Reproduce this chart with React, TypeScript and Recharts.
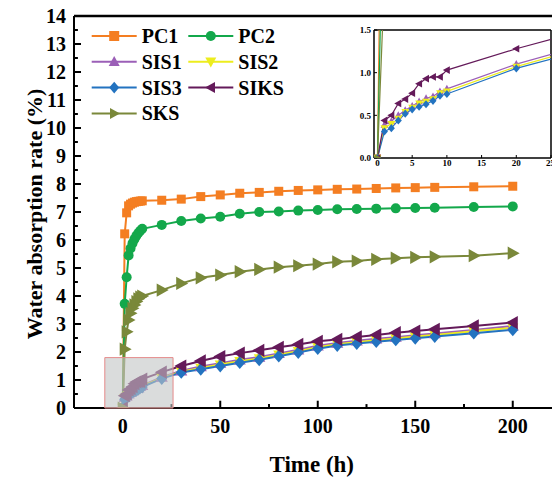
import React from 'react';
import { LineChart, Line, XAxis, YAxis, ReferenceLine, ReferenceArea, Legend } from 'recharts';

// ---------- data ----------
const times = [0, 1, 2, 3, 4, 5, 6, 7, 8, 9, 10, 20, 30, 40, 50, 60, 70, 80, 90, 100, 110, 120, 130, 140, 150, 160, 180, 200];

const pc1 = [0, 6.22, 6.97, 7.22, 7.28, 7.32, 7.35, 7.37, 7.38, 7.39, 7.4, 7.42, 7.46, 7.55, 7.61, 7.67, 7.7, 7.74, 7.77, 7.79, 7.81, 7.82, 7.84, 7.86, 7.87, 7.88, 7.9, 7.92];
const pc2 = [0, 3.72, 4.67, 5.45, 5.7, 5.88, 6.03, 6.15, 6.25, 6.33, 6.4, 6.54, 6.68, 6.77, 6.83, 6.94, 7.0, 7.02, 7.05, 7.07, 7.1, 7.11, 7.12, 7.13, 7.14, 7.15, 7.18, 7.2];
const sis1 = [0, 0.39, 0.43, 0.5, 0.56, 0.61, 0.66, 0.7, 0.72, 0.78, 0.81, 1.1, 1.33, 1.48, 1.6, 1.72, 1.82, 1.95, 2.08, 2.22, 2.32, 2.4, 2.47, 2.53, 2.6, 2.66, 2.79, 2.93];
const sis2 = [0, 0.35, 0.4, 0.46, 0.54, 0.59, 0.64, 0.66, 0.69, 0.76, 0.78, 1.07, 1.3, 1.43, 1.55, 1.67, 1.77, 1.9, 2.03, 2.17, 2.28, 2.35, 2.42, 2.48, 2.55, 2.61, 2.74, 2.87];
const sis3 = [0, 0.31, 0.35, 0.44, 0.52, 0.57, 0.6, 0.63, 0.67, 0.73, 0.75, 1.05, 1.27, 1.38, 1.5, 1.62, 1.72, 1.85, 1.98, 2.12, 2.23, 2.3, 2.37, 2.43, 2.49, 2.55, 2.67, 2.79];
const siks = [0, 0.44, 0.5, 0.64, 0.69, 0.76, 0.87, 0.93, 0.95, 0.95, 1.03, 1.28, 1.5, 1.68, 1.84, 1.96, 2.06, 2.17, 2.27, 2.38, 2.45, 2.54, 2.61, 2.69, 2.75, 2.81, 2.93, 3.05];
const sks = [0, 2.1, 2.72, 3.14, 3.38, 3.56, 3.68, 3.8, 3.9, 3.96, 4.0, 4.21, 4.45, 4.65, 4.75, 4.87, 4.95, 5.03, 5.08, 5.14, 5.22, 5.25, 5.31, 5.35, 5.38, 5.4, 5.44, 5.53];

const seriesNames = ['PC1', 'PC2', 'SIS1', 'SIS2', 'SIS3', 'SIKS', 'SKS'];
const seriesValues = [pc1, pc2, sis1, sis2, sis3, siks, sks];
const seriesColors = ['#F47E22', '#13A84B', '#9B5FB7', '#EDED1E', '#2373C0', '#641A5A', '#7A883A'];
const seriesShapes = ['square', 'circle', 'up', 'down', 'diamond', 'left', 'right'];
const seriesSizes = [9, 10, 11, 10, 11, 12, 12];

const mainXTicks = [0, 50, 100, 150, 200];
const mainXMinor = [25, 75, 125, 175];
const mainYTicks = [0, 1, 2, 3, 4, 5, 6, 7, 8, 9, 10, 11, 12, 13, 14];
const mainYMinor = [0.5, 1.5, 2.5, 3.5, 4.5, 5.5, 6.5, 7.5, 8.5, 9.5, 10.5, 11.5, 12.5, 13.5];
const insetXTicks = [0, 5, 10, 15, 20, 25];
const insetYTicks = [0, 0.5, 1, 1.5];

const zoomBox = { x1: -9.2, x2: 25.8, y1: 0, y2: 1.8 };

const data = times.map((t, i) => {
  const row: any = { t };
  seriesNames.forEach((n, k) => {
    row[n] = seriesValues[k][i];
  });
  return row;
});

const FONT = '"Liberation Serif", "Times New Roman", serif';

// ---------- markers ----------
function markerShape(shape: string, cx: number, cy: number, s: number, color: string, key?: any) {
  switch (shape) {
    case 'square':
      return <rect key={key} x={cx - s / 2} y={cy - s / 2} width={s} height={s} fill={color} />;
    case 'circle':
      return <circle key={key} cx={cx} cy={cy} r={s / 2} fill={color} />;
    case 'up':
      return <polygon key={key} fill={color} points={`${cx},${cy - s * 0.58} ${cx - s * 0.55},${cy + s * 0.42} ${cx + s * 0.55},${cy + s * 0.42}`} />;
    case 'down':
      return <polygon key={key} fill={color} points={`${cx},${cy + s * 0.58} ${cx - s * 0.55},${cy - s * 0.42} ${cx + s * 0.55},${cy - s * 0.42}`} />;
    case 'diamond':
      return <polygon key={key} fill={color} points={`${cx},${cy - s * 0.58} ${cx + s * 0.5},${cy} ${cx},${cy + s * 0.58} ${cx - s * 0.5},${cy}`} />;
    case 'left':
      return <polygon key={key} fill={color} points={`${cx - s * 0.58},${cy} ${cx + s * 0.42},${cy - s * 0.55} ${cx + s * 0.42},${cy + s * 0.55}`} />;
    case 'right':
    default:
      return <polygon key={key} fill={color} points={`${cx + s * 0.58},${cy} ${cx - s * 0.42},${cy - s * 0.55} ${cx - s * 0.42},${cy + s * 0.55}`} />;
  }
}

const makeDot = (shape: string, color: string, size: number) => (props: any) => {
  const { cx, cy, index } = props;
  if (cx == null || cy == null || isNaN(cx) || isNaN(cy)) return <g key={`e${index}`} />;
  return markerShape(shape, cx, cy, size, color, `d${index}`);
};

// ---------- legend ----------
const LegendContent = (props: any) => {
  const payload = (props.payload || []) as any[];
  const colX = [91.7, 188.3];
  const ordered = seriesNames
    .map((n) => payload.find((p: any) => p.value === n))
    .filter(Boolean) as any[];
  return (
    <svg width={300} height={130} style={{ display: 'block' }}>
      {ordered.map((p: any, i: number) => {
        const k = seriesNames.indexOf(p.value);
        const col = i % 2;
        const row = Math.floor(i / 2);
        const x0 = colX[col];
        const y = 36 + row * 25.8;
        return (
          <g key={p.value}>
            <line x1={x0} x2={x0 + 45} y1={y} y2={y} stroke={seriesColors[k]} strokeWidth={2} />
            {markerShape(seriesShapes[k], x0 + 22.5, y, 10, seriesColors[k])}
            <text x={x0 + 50} y={y + 7} fontFamily={FONT} fontWeight="bold" fontSize={20} fill="#000">
              {p.value}
            </text>
          </g>
        );
      })}
    </svg>
  );
};

export default function App() {
  return (
    <div style={{ position: 'absolute', left: 0, top: 0, width: 552, height: 477, overflow: 'hidden', background: '#fff', fontFamily: FONT }}>
      <LineChart width={580} height={477} data={data} margin={{ top: 16, right: 18.5, bottom: 0, left: 0 }}>
        <XAxis
          dataKey="t"
          type="number"
          domain={[-25, 225]}
          ticks={mainXTicks}
          tickLine={false}
          tickSize={0}
          tickMargin={11}
          height={69}
          axisLine={{ stroke: '#000', strokeWidth: 2 }}
          tick={{ fill: '#000', fontSize: 20, fontWeight: 'bold', fontFamily: FONT }}
          label={{ value: 'Time (h)', position: 'insideBottom', offset: 5, dx: -6, fill: '#000', fontSize: 23, fontWeight: 'bold', fontFamily: FONT }}
          allowDataOverflow
        />
        <YAxis
          type="number"
          domain={[0, 14]}
          ticks={mainYTicks}
          interval={0}
          tickLine={false}
          tickSize={0}
          tickMargin={8}
          width={74}
          axisLine={{ stroke: '#000', strokeWidth: 2 }}
          tick={{ fill: '#000', fontSize: 20, fontWeight: 'bold', fontFamily: FONT }}
          label={{ value: 'Water absorption rate (%)', angle: -90, position: 'center', dx: -3, dy: 2, fill: '#000', fontSize: 22, fontWeight: 'bold', fontFamily: FONT }}
          allowDataOverflow
        />
        <ReferenceLine y={14} stroke="#000" strokeWidth={2.5} />
        <ReferenceLine x={225} stroke="#000" strokeWidth={2.5} />
        {mainXTicks.map((v) => (
          <ReferenceLine key={`xt${v}`} segment={[{ x: v, y: 0 }, { x: v, y: 0.26 }]} stroke="#000" strokeWidth={2} />
        ))}
        {mainXMinor.map((v) => (
          <ReferenceLine key={`xm${v}`} segment={[{ x: v, y: 0 }, { x: v, y: 0.14 }]} stroke="#000" strokeWidth={2} />
        ))}
        {mainYTicks.map((v) => (
          <ReferenceLine key={`yt${v}`} segment={[{ x: -25, y: v }, { x: -21.4, y: v }]} stroke="#000" strokeWidth={2} />
        ))}
        {mainYMinor.map((v) => (
          <ReferenceLine key={`ym${v}`} segment={[{ x: -25, y: v }, { x: -23, y: v }]} stroke="#000" strokeWidth={2} />
        ))}
        {seriesNames.map((n, k) => (
          <Line
            key={n}
            dataKey={n}
            name={n}
            type="linear"
            stroke={seriesColors[k]}
            strokeWidth={2}
            dot={makeDot(seriesShapes[k], seriesColors[k], seriesSizes[k])}
            activeDot={false}
            isAnimationActive={false}
          />
        ))}
        <Legend
          layout="vertical"
          align="center"
          verticalAlign="middle"
          wrapperStyle={{ left: 0, top: 0, width: 300, height: 130 }}
          content={<LegendContent />}
        />
      </LineChart>

      {/* translucent zoom box drawn above the series, on identical scales */}
      <div style={{ position: 'absolute', left: 0, top: 0, pointerEvents: 'none' }}>
        <LineChart width={580} height={477} data={data} margin={{ top: 16, right: 18.5, bottom: 69, left: 74 }}>
          <XAxis dataKey="t" type="number" domain={[-25, 225]} hide allowDataOverflow />
          <YAxis type="number" domain={[0, 14]} hide allowDataOverflow />
          <ReferenceArea
            x1={zoomBox.x1}
            x2={zoomBox.x2}
            y1={zoomBox.y1}
            y2={zoomBox.y2}
            fill="#c2c5c4"
            fillOpacity={0.6}
            stroke="#e58a8a"
            strokeWidth={1}
          />
        </LineChart>
      </div>

      <div style={{ position: 'absolute', left: 340, top: 25 }}>
        <LineChart width={215} height={150} data={data} margin={{ top: 5, right: 4, bottom: 0, left: 0 }}>
          <XAxis
            dataKey="t"
            type="number"
            domain={[-0.5, 25]}
            ticks={insetXTicks}
            tickLine={false}
            tickSize={0}
            tickMargin={2}
            height={17}
            axisLine={{ stroke: '#000', strokeWidth: 1.5 }}
            tick={{ fill: '#000', fontSize: 9, fontWeight: 'bold', fontFamily: FONT }}
            allowDataOverflow
          />
          <YAxis
            type="number"
            domain={[0, 1.5]}
            ticks={insetYTicks}
            interval={0}
            tickFormatter={(v: number) => v.toFixed(1)}
            tickLine={false}
            tickSize={0}
            tickMargin={3}
            width={34}
            axisLine={{ stroke: '#000', strokeWidth: 1.5 }}
            tick={{ fill: '#000', fontSize: 9, fontWeight: 'bold', fontFamily: FONT }}
            allowDataOverflow
          />
          <ReferenceLine y={1.5} stroke="#000" strokeWidth={1.5} />
          <ReferenceLine x={25} stroke="#000" strokeWidth={1.5} />
          {insetXTicks.map((v) => (
            <ReferenceLine key={`ixt${v}`} segment={[{ x: v, y: 0 }, { x: v, y: 0.035 }]} stroke="#000" strokeWidth={1} />
          ))}
          {insetYTicks.map((v) => (
            <ReferenceLine key={`iyt${v}`} segment={[{ x: -0.5, y: v }, { x: -0.07, y: v }]} stroke="#000" strokeWidth={1} />
          ))}
          {seriesNames.map((n, k) => (
            <Line
              key={n}
              dataKey={n}
              name={n}
              type="linear"
              stroke={seriesColors[k]}
              strokeWidth={1.2}
              dot={makeDot(seriesShapes[k], seriesColors[k], 7)}
              activeDot={false}
              isAnimationActive={false}
            />
          ))}
        </LineChart>
      </div>
    </div>
  );
}
